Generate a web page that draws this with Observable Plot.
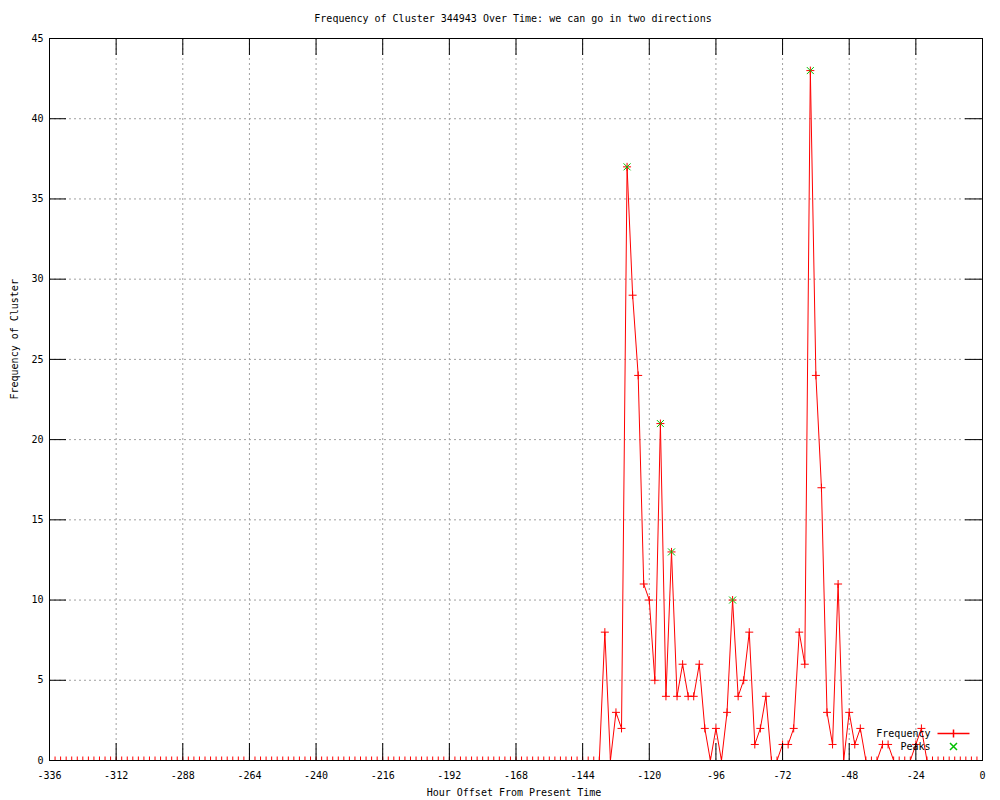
<!DOCTYPE html>
<html><head><meta charset="utf-8">
<script src="https://cdn.jsdelivr.net/npm/d3@7"></script>
<script src="https://cdn.jsdelivr.net/npm/@observablehq/plot@0.6"></script>
<style>body{margin:0;background:#fff}</style>
</head><body><div id="chart"></div>
<script>
// ---- data ----
const titleText = "Frequency of Cluster 344943 Over Time: we can go in two directions";
const xLabelText = "Hour Offset From Present Time";
const yLabelText = "Frequency of Cluster";
const startHour = -336;
const stepHours = 2;
const frequency = [
  0,0,0,0,0,0,0,0,0,0,0,0,0,0,0,0,0,0,0,0,
  0,0,0,0,0,0,0,0,0,0,0,0,0,0,0,0,0,0,0,0,
  0,0,0,0,0,0,0,0,0,0,0,0,0,0,0,0,0,0,0,0,
  0,0,0,0,0,0,0,0,0,0,0,0,0,0,0,0,0,0,0,0,
  0,0,0,0,0,0,0,0,0,0,0,0,0,0,0,0,0,0,0,0,
  8,0,3,2,37,29,24,11,10,5,
  21,4,13,4,6,4,4,6,2,0,
  2,0,3,10,4,5,8,1,2,4,
  0,0,1,1,2,8,6,43,24,17,
  3,1,11,0,3,1,2,0,0,0,
  1,1,0,0,0,0,1,2,0,0,
  0,0,0,0,0,0,0,0,0
];
const peakHours = [-128, -116, -112, -90, -62];
const peakValues = [37, 21, 13, 10, 43];
const xTicks = [-336,-312,-288,-264,-240,-216,-192,-168,-144,-120,-96,-72,-48,-24,0];
const yTicks = [0,5,10,15,20,25,30,35,40,45];
const legendLabels = ["Frequency", "Peaks"];

// ---- derived tables ----
const series = frequency.map((v, i) => ({hour: startHour + i * stepHours, value: v}));
const peaks = peakHours.map((h, i) => ({hour: h, value: peakValues[i]}));

// ---- gnuplot-like marker symbols ----
const plusSymbol = {draw(ctx, size) { const r = Math.sqrt(size / Math.PI);
  ctx.moveTo(-r, 0); ctx.lineTo(r, 0); ctx.moveTo(0, -r); ctx.lineTo(0, r); }};
const timesSymbol = {draw(ctx, size) { const r = Math.sqrt(size / Math.PI);
  ctx.moveTo(-r, -r); ctx.lineTo(r, r); ctx.moveTo(-r, r); ctx.lineTo(r, -r); }};
const legendLineSymbol = {draw(ctx, size) { const r = Math.sqrt(size / Math.PI);
  ctx.moveTo(-16, 0); ctx.lineTo(16, 0); ctx.moveTo(0, -r); ctx.lineTo(0, r); }};

const W = 1000, H = 800, mL = 49, mR = 18, mT = 38, mB = 40;
const frameW = W - mL - mR, frameH = H - mT - mB, tickLen = 17;
const red = "#ff0000", green = "#00c000", gridColor = "#a0a0a0";
const fmt = d => String(d);

const chart = Plot.plot({
  width: W, height: H,
  marginLeft: mL, marginRight: mR, marginTop: mT, marginBottom: mB,
  style: {fontFamily: "'DejaVu Sans Mono', monospace", fontSize: "10px", background: "white", color: "black"},
  x: {domain: [xTicks[0], xTicks[xTicks.length - 1]]},
  y: {domain: [yTicks[0], yTicks[yTicks.length - 1]]},
  marks: [
    Plot.gridX(xTicks.slice(1, -1), {stroke: gridColor, strokeOpacity: 1, strokeDasharray: "2,3"}),
    Plot.gridY(yTicks.slice(1, -1), {stroke: gridColor, strokeOpacity: 1, strokeDasharray: "2,3"}),
    Plot.line(series, {x: "hour", y: "value", stroke: red, strokeWidth: 1}),
    Plot.dot(series, {x: "hour", y: "value", symbol: plusSymbol, r: 4, stroke: red, fill: "none", strokeWidth: 1, clip: true}),
    Plot.dot(peaks, {x: "hour", y: "value", symbol: timesSymbol, r: 3.5, stroke: green, fill: "none", strokeWidth: 1}),
    Plot.frame({stroke: "black", strokeWidth: 1}),
    Plot.tickX(xTicks, {x: d => d, stroke: "black", insetTop: frameH - tickLen}),
    Plot.tickX(xTicks, {x: d => d, stroke: "black", insetBottom: frameH - tickLen}),
    Plot.tickY(yTicks, {y: d => d, stroke: "black", insetRight: frameW - tickLen}),
    Plot.tickY(yTicks, {y: d => d, stroke: "black", insetLeft: frameW - tickLen}),
    Plot.axisX(xTicks, {tickSize: 0, tickPadding: 11, label: null, tickFormat: fmt}),
    Plot.axisY(yTicks, {tickSize: 0, tickPadding: 6, label: null, tickFormat: fmt}),
    Plot.text([titleText], {text: d => d, frameAnchor: "top", lineAnchor: "middle", dy: -20, dx: -3}),
    Plot.text([xLabelText], {text: d => d, frameAnchor: "bottom", lineAnchor: "middle", dy: 32, dx: -2}),
    Plot.text([yLabelText], {text: d => d, frameAnchor: "left", lineAnchor: "middle", rotate: -90, dx: -35}),
    // legend
    Plot.text([legendLabels[0]], {text: d => d, frameAnchor: "bottom-right", lineAnchor: "middle", textAnchor: "end", dx: -52, dy: -27}),
    Plot.text([legendLabels[1]], {text: d => d, frameAnchor: "bottom-right", lineAnchor: "middle", textAnchor: "end", dx: -52, dy: -14}),
    Plot.dot([legendLabels[0]], {frameAnchor: "bottom-right", dx: -29, dy: -27, symbol: legendLineSymbol, r: 4, stroke: red, fill: "none"}),
    Plot.dot([legendLabels[1]], {frameAnchor: "bottom-right", dx: -29, dy: -14, symbol: timesSymbol, r: 3.5, stroke: green, fill: "none"})
  ]
});
document.getElementById("chart").appendChild(chart);
</script>
</body></html>
